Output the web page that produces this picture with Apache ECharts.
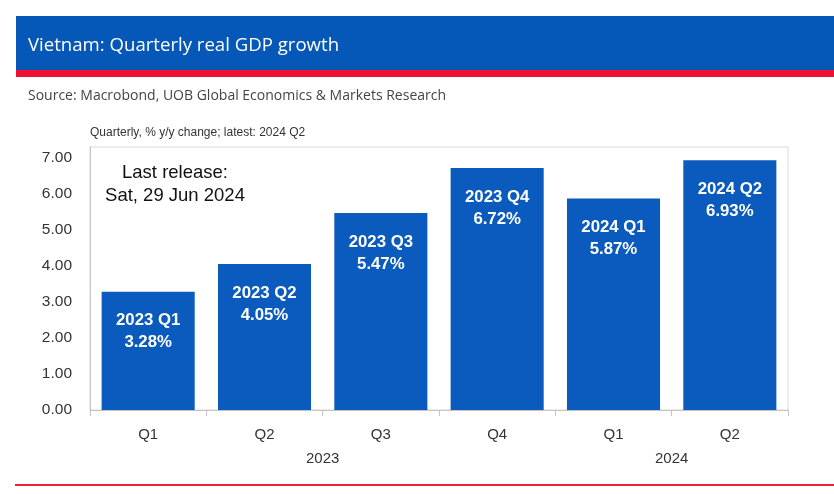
<!DOCTYPE html>
<html>
<head>
<meta charset="utf-8">
<script src="https://cdn.jsdelivr.net/npm/echarts@6/dist/echarts.min.js"></script>
<style>
html,body{margin:0;padding:0;background:#fff;}
#chart{width:834px;height:494px;}
</style>
</head>
<body>
<div id="chart"></div>
<script>
// ---- data ----
var quarters = ['Q1', 'Q2', 'Q3', 'Q4', 'Q1', 'Q2'];
var barYears = ['2023', '2023', '2023', '2023', '2024', '2024'];
var gdpGrowth = [3.28, 4.05, 5.47, 6.72, 5.87, 6.93];
var yearLabels = ['2023', '2024'];
var yearQuarterCounts = [4, 2];
var yTickMin = 0, yTickMax = 7;

var titleText = 'Vietnam: Quarterly real GDP growth';
var sourceText = 'Source: Macrobond, UOB Global Economics & Markets Research';
var subtitleText = 'Quarterly, % y/y change; latest: 2024 Q2';
var releaseText = 'Last release:\nSat, 29 Jun 2024';

// year label positions (centre of each year's block of quarters)
var yearCentres = {};
var acc = 0;
for (var i = 0; i < yearLabels.length; i++) {
  yearCentres[acc + yearQuarterCounts[i] / 2] = yearLabels[i];
  acc += yearQuarterCounts[i];
}

var chart = echarts.init(document.getElementById('chart'));
var font = '"Liberation Sans", Arial, sans-serif';
var headFont = '"Open Sans", "Lato", sans-serif';

chart.setOption({
  animation: false,
  backgroundColor: '#fff',
  textStyle: { fontFamily: font },
  grid: {
    left: 90, right: 46, top: 147, bottom: 84,
    show: true, borderColor: '#d9d9d9', borderWidth: 1
  },
  xAxis: [{
    type: 'category',
    data: quarters,
    axisLine: { lineStyle: { color: '#c4c4c4' } },
    axisTick: { show: true, length: 6, lineStyle: { color: '#c4c4c4' } },
    axisLabel: { color: '#333', fontSize: 15, margin: 17, fontFamily: font }
  }, {
    type: 'value',
    position: 'bottom',
    min: 0, max: acc, interval: 1,
    axisLine: { show: false },
    axisTick: { show: false },
    splitLine: { show: false },
    axisLabel: {
      color: '#333', fontSize: 15, margin: 41, fontFamily: font,
      showMinLabel: true, showMaxLabel: true,
      formatter: function (v) { return yearCentres[v] || ''; }
    }
  }],
  yAxis: {
    type: 'value',
    min: yTickMin, max: yTickMax + 0.3, interval: 1,
    axisLine: { show: true, lineStyle: { color: '#c4c4c4' } },
    axisTick: { show: false },
    splitLine: { show: false },
    axisLabel: {
      color: '#333', fontSize: 15.5, margin: 18, fontFamily: font,
      showMaxLabel: false,
      formatter: function (v) { return v.toFixed(2); }
    }
  },
  series: [{
    type: 'bar',
    xAxisIndex: 0,
    data: gdpGrowth,
    barWidth: '80%',
    itemStyle: { color: '#0a5bbd' },
    label: {
      show: true,
      position: 'insideTop',
      distance: 18,
      color: '#fff',
      fontSize: 16.8,
      fontWeight: 'bold',
      lineHeight: 22,
      fontFamily: font,
      formatter: function (p) {
        return barYears[p.dataIndex] + ' ' + quarters[p.dataIndex] + '\n' + p.value.toFixed(2) + '%';
      }
    }
  }],
  graphic: [
    { type: 'rect', shape: { x: 16, y: 16, width: 818, height: 54 }, style: { fill: '#0558b7' }, z: 1 },
    { type: 'rect', shape: { x: 16, y: 70, width: 818, height: 7 }, style: { fill: '#ee1133' }, z: 1 },
    { type: 'text', x: 28, y: 46, z: 2,
      style: { text: titleText, fill: '#fff', fontSize: 18.6, fontFamily: headFont, verticalAlign: 'middle' } },
    { type: 'text', x: 28, y: 96, z: 2,
      style: { text: sourceText, fill: '#444', fontSize: 14, fontFamily: headFont, verticalAlign: 'middle' } },
    { type: 'text', x: 90, y: 133, z: 2,
      style: { text: subtitleText, fill: '#333', fontSize: 12, fontFamily: font, verticalAlign: 'middle' } },
    { type: 'text', x: 175, y: 161, z: 5,
      style: { text: releaseText, fill: '#111', fontSize: 18.5, lineHeight: 23, fontFamily: font, align: 'center', verticalAlign: 'top' } },
    { type: 'rect', shape: { x: 15, y: 484, width: 819, height: 2 }, style: { fill: '#ee2233' }, z: 1 }
  ]
});
</script>
</body>
</html>
